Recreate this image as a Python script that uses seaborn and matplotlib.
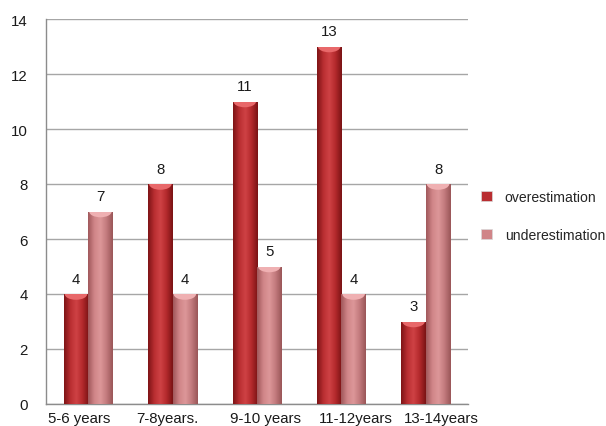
import matplotlib as mpl

mpl.use('Agg')
import matplotlib.pyplot as plt
from matplotlib.colors import LinearSegmentedColormap
from matplotlib.patches import Ellipse, Rectangle
from matplotlib.transforms import ScaledTranslation
import seaborn as sns
import numpy as np
import pandas as pd

# values
age_groups = ['5-6 years', '7-8years.', '9-10 years', '11-12years', '13-14years']
overestimation = [4, 8, 11, 13, 3]
underestimation = [7, 4, 5, 4, 8]
series_names = ['overestimation', 'underestimation']

df = pd.DataFrame({
    'age': age_groups * 2,
    'count': overestimation + underestimation,
    'kind': [series_names[0]] * 5 + [series_names[1]] * 5,
})

sns.set_style('white')
plt.rcParams['font.family'] = ['Liberation Sans', 'DejaVu Sans']
fs = 10.8

# cylinder-like shading, edge -> highlight -> edge
cmaps = {
    'overestimation': LinearSegmentedColormap.from_list(
        'over', ['#7e1416', '#b92e31', '#cf4245', '#b3292c', '#7a1315']),
    'underestimation': LinearSegmentedColormap.from_list(
        'under', ['#a0585b', '#d08588', '#dd9799', '#c27a7d', '#9a5658']),
}
cap_colors = {'overestimation': '#e8686a', 'underestimation': '#efb0b2'}
base_colors = {'overestimation': '#b92e31', 'underestimation': '#d08588'}

fig = plt.figure(figsize=(6.06, 4.27), dpi=100)
ax = fig.add_axes([46 / 606, 22 / 427, (468 - 46) / 606, (405 - 20) / 427])

sns.barplot(data=df, x='age', y='count', hue='kind', hue_order=series_names,
            palette=base_colors, width=0.58, saturation=1, ax=ax, legend=False,
            zorder=3, linewidth=0)

ax.set_ylim(0, 14)
ax.set_xlim(-0.5, 4.5)
ax.set_yticks(range(0, 15, 2))
ax.yaxis.grid(True, color='#a6a6a6', linewidth=1.0, zorder=0)
ax.set_axisbelow(True)

grad = np.linspace(0, 1, 64).reshape(1, -1)
for cont, name in zip(ax.containers, series_names):
    for bar in cont:
        x0, y0 = bar.get_x(), bar.get_y()
        w, h = bar.get_width(), bar.get_height()
        im = ax.imshow(grad, cmap=cmaps[name], extent=[x0, x0 + w, y0, y0 + h],
                       aspect='auto', zorder=3.5, interpolation='bicubic')
        im.set_clip_path(bar)
        cap = Ellipse((x0 + w / 2, y0 + h), w * 0.92, 0.42, facecolor=cap_colors[name],
                      edgecolor='none', zorder=3.6)
        ax.add_patch(cap)
        cap.set_clip_path(bar)
    ax.bar_label(cont, padding=6, fontsize=fs, color='#1a1a1a')

ax.set_xlim(-0.5, 4.5)
ax.set_ylim(0, 14)

for side in ['top', 'right']:
    ax.spines[side].set_visible(False)
for side in ['left', 'bottom']:
    ax.spines[side].set_color('#8c8c8c')
    ax.spines[side].set_linewidth(1.0)

ax.set_xlabel('')
ax.set_ylabel('')
ax.set_xticks(np.arange(-0.5, 5, 1), minor=True)
ax.tick_params(axis='x', which='major', length=0, labelsize=fs, pad=5,
               labelcolor='#1a1a1a')
ax.tick_params(axis='x', which='minor', length=5, color='#8c8c8c', width=1)
ax.tick_params(axis='y', length=5, color='#8c8c8c', width=1, labelsize=fs,
               labelcolor='#1a1a1a', pad=8)

# the original spreads its category labels unevenly; nudge them (pixels)
label_shift = [-9, -5, 8, 14, 16]
for lab, dx in zip(ax.get_xticklabels(), label_shift):
    lab.set_transform(lab.get_transform() + ScaledTranslation(dx / 100, 0, fig.dpi_scale_trans))

handles = [Rectangle((0, 0), 1, 1, facecolor=base_colors[n], edgecolor='#d9d9d9',
                     linewidth=0.5) for n in series_names]
fig.legend(handles, series_names, loc='upper left',
           bbox_to_anchor=(481 / 606, 1 - 191 / 427), frameon=False,
           fontsize=10.1, handlelength=0.75, handleheight=0.75,
           handletextpad=0.95, labelspacing=1.7, borderpad=0, borderaxespad=0)

fig.savefig('out.png', dpi=100)
